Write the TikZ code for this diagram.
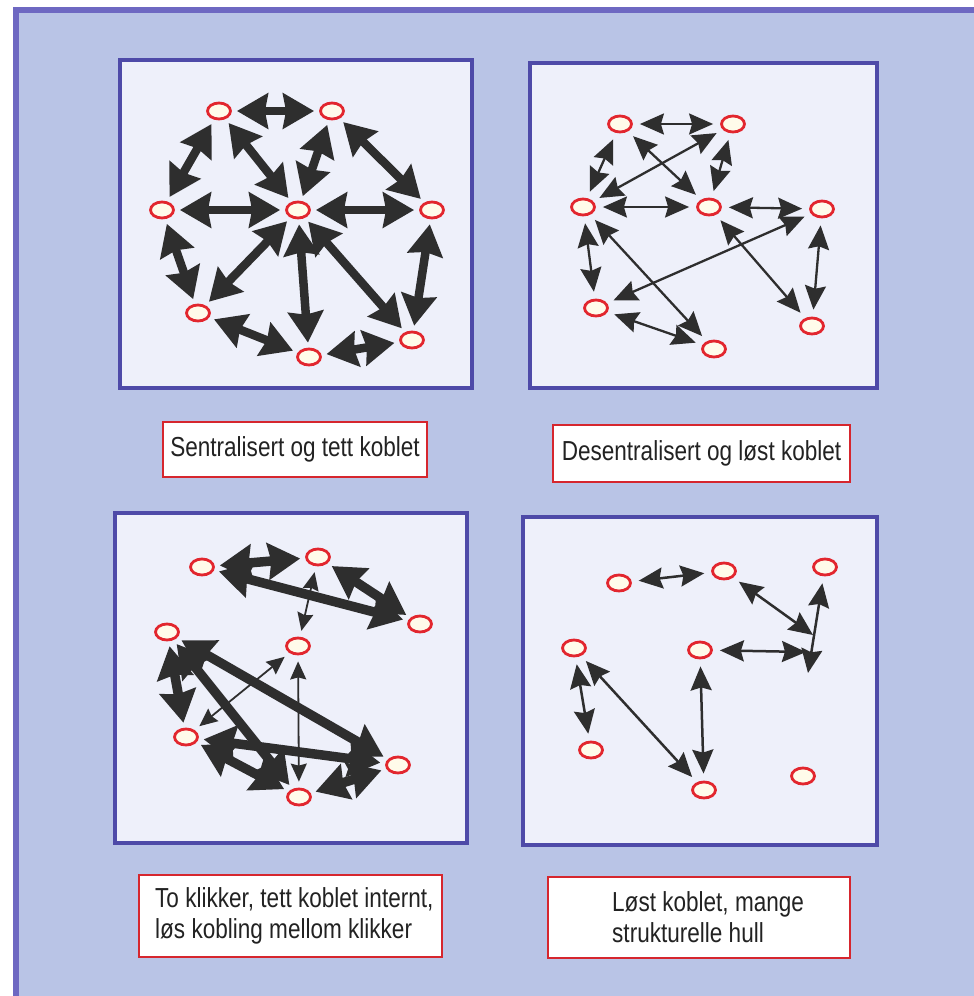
\documentclass[tikz,border=0pt]{standalone}
\usepackage{fontspec}
\setmainfont[FakeStretch=0.82]{Liberation Sans}
\usetikzlibrary{arrows.meta,shapes.geometric}
\definecolor{bgc}{HTML}{B9C4E6}
\definecolor{outerc}{HTML}{6E68C2}
\definecolor{framec}{HTML}{4E4AA8}
\definecolor{panelc}{HTML}{EEF0FA}
\definecolor{nodered}{HTML}{E2262E}
\definecolor{nodefill}{HTML}{FFFBEA}
\definecolor{arrc}{HTML}{2E2E2E}
\definecolor{boxred}{HTML}{D6262E}
\definecolor{txtc}{HTML}{222222}
\tikzset{
  bighead/.tip={Stealth[length=31pt,width=35pt,inset=3pt]},
  bigheadc/.tip={Stealth[length=32pt,width=36pt,inset=3pt]},
  smallhead/.tip={Stealth[length=18pt,width=16pt,inset=2pt]},
  medhead/.tip={Stealth[length=24pt,width=21pt,inset=3pt]}
}
\begin{document}
\begin{tikzpicture}[x=1pt,y=-1pt,
  nd/.style={ellipse,draw=nodered,line width=2.8pt,fill=nodefill,minimum width=23pt,minimum height=16pt,inner sep=0pt},
  panel/.style={draw=framec,line width=4pt,fill=panelc},
  bigarr/.style={draw=arrc,line width=8.5pt,bighead-bighead,shorten <=5pt,shorten >=5pt},
  bigarrc/.style={draw=arrc,line width=9.5pt,bigheadc-bigheadc,shorten <=5pt,shorten >=5pt},
  thinarrc/.style={draw=arrc,line width=1.8pt,smallhead-smallhead,shorten <=6pt,shorten >=6pt},
  medarr/.style={draw=arrc,line width=2.3pt,medhead-medhead,shorten <=7pt,shorten >=7pt},
  medarrd/.style={draw=arrc,line width=2.5pt,medhead-medhead,shorten <=7pt,shorten >=7pt},
  lbox/.style={draw=boxred,line width=2.5pt,fill=white,inner sep=0pt},
  ltxt/.style={font=\fontsize{27.5}{31}\selectfont,text=txtc,align=left,inner sep=0pt}
]
\useasboundingbox (0,0) rectangle (974,996);
\fill[white] (0,0) rectangle (974,996);
\fill[outerc] (13,7) rectangle (974,996);
\fill[bgc] (19,13) rectangle (974,996);

% panels
\draw[panel] (120,60) rectangle (472,388);
\draw[panel] (530,63) rectangle (877,388);
\draw[panel] (115,513) rectangle (467,843);
\draw[panel] (523,517) rectangle (877,845);

% panel 1
\node[nd] (A) at (219,111) {};
\node[nd] (B) at (332,111) {};
\node[nd] (C) at (162,210) {};
\node[nd] (D) at (298,210) {};
\node[nd] (E) at (432,210) {};
\node[nd] (F) at (198,313) {};
\node[nd] (G) at (309,357) {};
\node[nd] (H) at (412,340) {};
\draw[bigarr] (A) -- (B);
\draw[bigarr] (A) -- (C);
\draw[bigarr] (A) -- (D);
\draw[bigarr] (B) -- (D);
\draw[bigarr] (B) -- (E);
\draw[bigarr] (C) -- (D);
\draw[bigarr] (D) -- (E);
\draw[bigarr] (C) -- (F);
\draw[bigarr] (D) -- (F);
\draw[bigarr] (D) -- (G);
\draw[bigarr] (D) -- (H);
\draw[bigarr] (E) -- (H);
\draw[bigarr] (F) -- (G);
\draw[bigarr] (G) -- (H);

% panel 2
\node[nd] (a) at (620,124) {};
\node[nd] (b) at (733,124) {};
\node[nd] (c) at (583,207) {};
\node[nd] (d) at (709,207) {};
\node[nd] (e) at (822,209) {};
\node[nd] (f) at (596,308) {};
\node[nd] (g) at (714,349) {};
\node[nd] (h) at (812,326) {};
\draw[medarr] (a) -- (b);
\draw[medarr] (a) -- (c);
\draw[medarr] (a) -- (d);
\draw[medarr] (b) -- (c);
\draw[medarr] (b) -- (d);
\draw[medarr] (c) -- (d);
\draw[medarr] (d) -- (e);
\draw[medarr] (c) -- (g);
\draw[medarr] (e) -- (f);
\draw[medarr] (c) -- (f);
\draw[medarr] (f) -- (g);
\draw[medarr] (d) -- (h);
\draw[medarr] (e) -- (h);

% panel 3
\node[nd] (p1) at (202,567) {};
\node[nd] (p2) at (318,557) {};
\node[nd] (p3) at (420,624) {};
\node[nd] (p4) at (167,632) {};
\node[nd] (p5) at (298,646) {};
\node[nd] (p6) at (186,737) {};
\node[nd] (p7) at (398,765) {};
\node[nd] (p8) at (299,797) {};
\draw[bigarrc] (p1) -- (p2);
\draw[bigarrc] (p2) -- (p3);
\draw[bigarrc] (p1) -- (p3);
\draw[bigarrc] (p4) -- (p7);
\draw[bigarrc] (p4) -- (p6);
\draw[bigarrc] (p4) -- (p8);
\draw[bigarrc] (p6) -- (p7);
\draw[bigarrc] (p6) -- (p8);
\draw[bigarrc] (p7) -- (p8);
\draw[thinarrc] (p2) -- (p5);
\draw[thinarrc] (p6) -- (p5);
\draw[thinarrc] (p5) -- (p8);

% panel 4
\node[nd] (q1) at (619,583) {};
\node[nd] (q2) at (724,571) {};
\node[nd] (q3) at (825,567) {};
\node[nd] (q4) at (574,648) {};
\node[nd] (q5) at (700,650) {};
\node[nd] (q6) at (591,750) {};
\node[nd] (q7) at (704,790) {};
\node[nd] (q8) at (803,776) {};
\coordinate (X1) at (813,635);
\coordinate (X2) at (808,673);
\coordinate (X3) at (806,652);
\draw[medarrd] (q1) -- (q2);
\draw[medarrd,shorten >=0pt] (q2) -- (X1);
\draw[medarrd,shorten >=0pt] (q3) -- (X2);
\draw[medarrd,shorten >=0pt] (q5) -- (X3);
\draw[medarrd] (q4) -- (q6);
\draw[medarrd] (q4) -- (q7);
\draw[medarrd] (q5) -- (q7);

% labels
\node[lbox,minimum width=264pt,minimum height=55pt] (L1) at (295,449.5) {};
\node[ltxt] (L1t) at (L1) {Sentralisert og tett koblet};
\node[lbox,minimum width=297pt,minimum height=57pt] (L2) at (701.5,453.5) {};
\node[ltxt] (L2t) at (L2) {Desentralisert og løst koblet};
\node[lbox,minimum width=303pt,minimum height=82pt] (L3) at (290.5,916) {};
\node[ltxt,anchor=west] (L3t) at (155,916) {To klikker, tett koblet internt,\\løs kobling mellom klikker};
\node[lbox,minimum width=302pt,minimum height=81pt] (L4) at (699,917.5) {};
\node[ltxt,anchor=west] (L4t) at (612,917.5) {Løst koblet, mange\\strukturelle hull};
\end{tikzpicture}
\end{document}
